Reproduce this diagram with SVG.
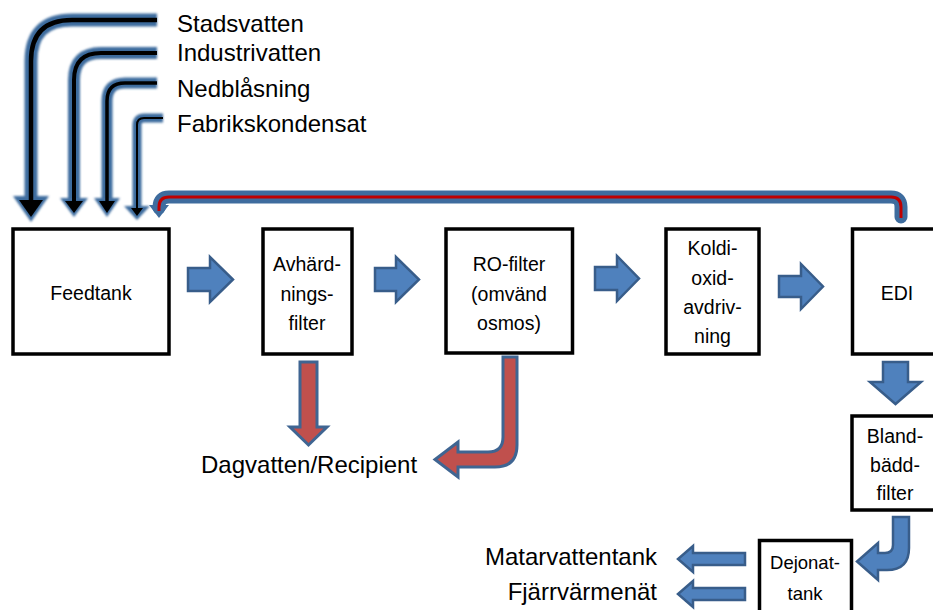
<svg xmlns="http://www.w3.org/2000/svg" width="933" height="610" viewBox="0 0 933 610">
<style>
.box{fill:#fff;stroke:#000;stroke-width:3.5}
.t{font-family:"Liberation Sans",Arial,sans-serif;font-size:19.5px;fill:#000;text-anchor:middle}
.lbl{font-family:"Liberation Sans",Arial,sans-serif;font-size:24px;fill:#000}
.ba{fill:#4F81BD;stroke:#385D8A;stroke-width:2.5;stroke-linejoin:miter}
.ra{fill:#C0504D;stroke:#3F6592;stroke-width:3;stroke-linejoin:miter}
.glow{fill:none;stroke:#3E6C9E;stroke-linecap:butt}
.core{fill:none;stroke:#000;stroke-linecap:butt}
</style>
<defs>
<filter id="blur" x="-20%" y="-20%" width="140%" height="140%"><feGaussianBlur stdDeviation="1.2"/></filter>
</defs>
<g id="connectors">
  <g id="in-stadsvatten">
    <path class="glow" filter="url(#blur)" stroke-width="13" d="M157,20 H72 Q31,20 31,61 V199"/>
    <polygon filter="url(#blur)" fill="#3E6C9E" points="13,196 49,196 31,222"/>
    <path class="core" stroke-width="4.5" d="M157,20 H72 Q31,20 31,61 V202"/>
    <polygon fill="#000" points="19,200 43,200 31,217"/>
  </g>
  <g id="in-industrivatten">
    <path class="glow" filter="url(#blur)" stroke-width="12" d="M157,53 H101 Q74,53 74,80 V200"/>
    <polygon filter="url(#blur)" fill="#3E6C9E" points="60,198 88,198 74,217"/>
    <path class="core" stroke-width="4" d="M157,53 H101 Q74,53 74,80 V202"/>
    <polygon fill="#000" points="65,201 83,201 74,213"/>
  </g>
  <g id="in-nedblasning">
    <path class="glow" filter="url(#blur)" stroke-width="11" d="M157,83 H125 Q107,83 107,101 V200"/>
    <polygon filter="url(#blur)" fill="#3E6C9E" points="94,198 120,198 107,217"/>
    <path class="core" stroke-width="3.5" d="M157,83 H125 Q107,83 107,101 V202"/>
    <polygon fill="#000" points="99,201 115,201 107,213"/>
  </g>
  <g id="in-fabrikskondensat">
    <path class="glow" filter="url(#blur)" stroke-width="9" d="M163,118 H144 Q137,118 137,125 V208"/>
    <polygon filter="url(#blur)" fill="#3E6C9E" points="124,206 150,206 137,220"/>
    <path class="core" stroke-width="2" d="M163,118 H144 Q137,118 137,125 V209"/>
    <polygon fill="#000" points="131,208 143,208 137,216"/>
  </g>
  <g id="return-edi-feedtank">
    <path fill="none" stroke="#3E6C9E" stroke-width="13" stroke-linecap="round" d="M901,217 V207 Q901,197 891,197 H169 Q159,197 159,207 V208"/>
    <polygon fill="#3E6C9E" points="149,205 169,205 159,218"/>
    <path fill="none" stroke="#C00000" stroke-width="3" d="M901,218 V207 Q901,197 891,197 H169 Q159,197 159,207 V211"/>
  </g>
  <polygon id="a-feed-avh" class="ba" points="188,268 210,268 210,257 233,279.5 210,302 210,291 188,291"/>
  <polygon id="a-avh-ro" class="ba" points="375,268 396,268 396,257 419,279.5 396,302 396,291 375,291"/>
  <polygon id="a-ro-kold" class="ba" points="595,267 617,267 617,256 639,278.5 617,301 617,290 595,290"/>
  <polygon id="a-kold-edi" class="ba" points="779,276 801,276 801,264 823,286.5 801,309 801,297 779,297"/>
  <polygon id="a-edi-bland" class="ba" points="883,362 908,362 908,382 921,382 895.5,404 870,382 883,382"/>
  <path id="a-bland-dejonat" class="ba" d="M893,517 H909 V548 Q909,570 887,570 H878 V580 L857,561.5 L878,543 V553 H885 Q893,553 893,545 Z"/>
  <polygon id="a-matar" class="ba" points="745,553 693,553 693,546 678,559 693,572 693,565 745,565"/>
  <polygon id="a-fjarr" class="ba" points="745,588 693,588 693,581 678,594 693,607 693,600 745,600"/>
  <polygon id="a-avh-dag" class="ra" points="300,362 317,362 317,427 327,427 308.5,445 290,427 300,427"/>
  <path id="a-ro-dag" class="ra" d="M503,357 H517 V445 Q517,467 495,467 H458 V477 L435,459.5 L458,442 V452 H488 Q503,452 503,437 Z"/>
</g>
<g id="feedtank">
  <rect class="box" x="13" y="229" width="156" height="125"/>
  <text class="t" x="91" y="300">Feedtank</text>
</g>
<g id="avhardningsfilter">
  <rect class="box" x="263" y="229" width="89" height="125"/>
  <text class="t" x="307" y="271">Avhärd-</text>
  <text class="t" x="307" y="301">nings-</text>
  <text class="t" x="307" y="330">filter</text>
</g>
<g id="ro-filter">
  <rect class="box" x="446" y="229" width="126.5" height="124"/>
  <text class="t" x="509" y="271">RO-filter</text>
  <text class="t" x="509" y="301">(omvänd</text>
  <text class="t" x="509" y="330">osmos)</text>
</g>
<g id="koldioxidavdrivning">
  <rect class="box" x="666" y="229" width="93" height="125"/>
  <text class="t" x="712.5" y="255">Koldi-</text>
  <text class="t" x="712.5" y="284.5">oxid-</text>
  <text class="t" x="712.5" y="314">avdriv-</text>
  <text class="t" x="712.5" y="343">ning</text>
</g>
<g id="edi">
  <rect class="box" x="852.5" y="229" width="95" height="125"/>
  <text class="t" x="897" y="300">EDI</text>
</g>
<g id="blandbaddfilter">
  <rect class="box" x="852" y="416" width="95" height="94"/>
  <text class="t" x="895" y="443">Bland-</text>
  <text class="t" x="895" y="472">bädd-</text>
  <text class="t" x="895" y="500">filter</text>
</g>
<g id="dejonattank">
  <rect class="box" x="759.5" y="540.5" width="92" height="80"/>
  <text class="t" x="805" y="569" style="font-size:18.5px">Dejonat-</text>
  <text class="t" x="805" y="600" style="font-size:18.5px">tank</text>
</g>
<g id="labels">
  <text class="lbl" x="177" y="32">Stadsvatten</text>
  <text class="lbl" x="177" y="61">Industrivatten</text>
  <text class="lbl" x="177" y="97">Nedblåsning</text>
  <text class="lbl" x="177" y="132">Fabrikskondensat</text>
  <text class="lbl" x="201" y="473">Dagvatten/Recipient</text>
  <text class="lbl" x="657" y="565" text-anchor="end">Matarvattentank</text>
  <text class="lbl" x="657" y="600" text-anchor="end">Fjärrvärmenät</text>
</g>
</svg>
